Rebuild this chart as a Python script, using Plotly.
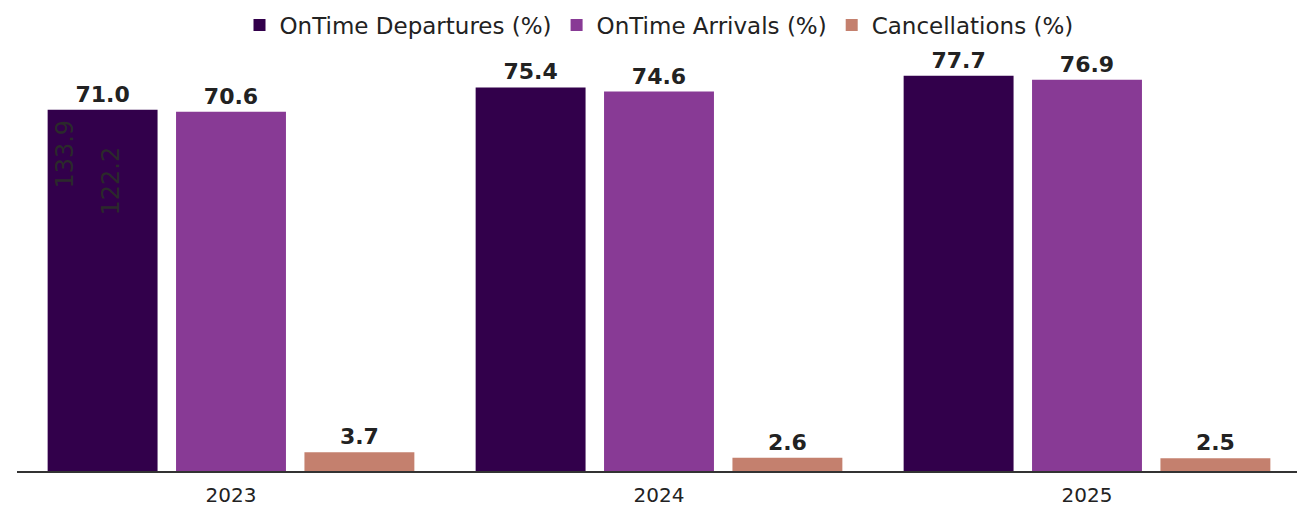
import plotly.graph_objects as go

years = ["2023", "2024", "2025"]
departures = [71.0, 75.4, 77.7]
arrivals = [70.6, 74.6, 76.9]
cancellations = [3.7, 2.6, 2.5]
series_names = ["OnTime Departures (%)", "OnTime Arrivals (%)", "Cancellations (%)"]
colors = ["#32004b", "#883a95", "#c4806e"]

stray_labels = ["133.9", "122.2"]
stray_values = [62.2, 56.9]
stray_shift = [-166, -120]

FONT = "DejaVu Sans"
label_font = dict(family=FONT, size=22, color="#222222", weight="bold")

fig = go.Figure()
for name, vals, col in zip(series_names, [departures, arrivals, cancellations], colors):
    fig.add_trace(go.Bar(
        x=years, y=vals, name=name, marker=dict(color=col, line=dict(width=0)),
        text=[f"{v:.1f}" for v in vals], textposition="outside",
        textfont=label_font, cliponaxis=False,
    ))

for txt, val, sh in zip(stray_labels, stray_values, stray_shift):
    fig.add_annotation(x=0, y=val, xref="x", yref="y", text=txt, showarrow=False,
                       textangle=-90, xshift=sh,
                       font=dict(family=FONT, size=24, color="#2b2a2b"))

fig.update_layout(
    width=1305, height=509,
    margin=dict(l=9, r=12, t=24, b=46, autoexpand=False),
    paper_bgcolor="white", plot_bgcolor="white",
    barmode="group", bargap=0.1, bargroupgap=0.144,
    legend=dict(orientation="h", x=0.5, xanchor="center", y=1.016, yanchor="middle",
                font=dict(family=FONT, size=23, color="#222222"),
                traceorder="normal", bgcolor="rgba(0,0,0,0)"),
    xaxis=dict(type="category", showline=True, linecolor="#333333", linewidth=2, ticks="",
               tickfont=dict(family=FONT, size=20, color="#222222"),
               ticklabelstandoff=5, showgrid=False),
    yaxis=dict(range=[0, 86.3], visible=False, showgrid=False),
)
fig.write_html("out.html")
